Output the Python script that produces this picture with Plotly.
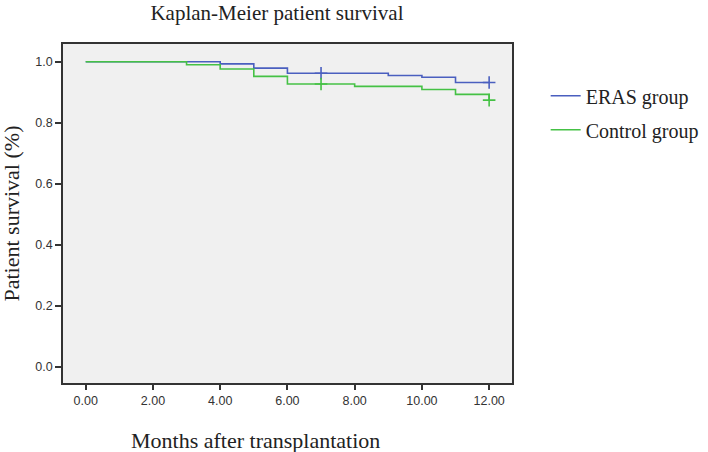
import plotly.graph_objects as go

# Data
eras_months = [0, 4, 5, 6, 9, 10, 11, 12]
eras_surv = [1.0, 0.993, 0.979, 0.962, 0.955, 0.949, 0.932, 0.932]
eras_cens_months = [7, 12]
eras_cens_surv = [0.962, 0.932]

ctrl_months = [0, 3, 4, 5, 6, 8, 10, 11, 12]
ctrl_surv = [1.0, 0.990, 0.976, 0.952, 0.927, 0.919, 0.909, 0.893, 0.874]
ctrl_cens_months = [7, 12]
ctrl_cens_surv = [0.927, 0.874]

x_ticks = [0, 2, 4, 6, 8, 10, 12]
y_ticks = [0.0, 0.2, 0.4, 0.6, 0.8, 1.0]

BLUE = "#4a5fbf"
GREEN = "#45c145"
SERIF = "Liberation Serif, Times New Roman, serif"
SANS = "Liberation Sans, Arial, sans-serif"

fig = go.Figure()
fig.add_trace(go.Scatter(x=eras_months, y=eras_surv, mode="lines", line_shape="hv",
                         line=dict(color=BLUE, width=1.6), name="ERAS group",
                         legendgroup="a"))
fig.add_trace(go.Scatter(x=eras_cens_months, y=eras_cens_surv, mode="markers",
                         marker=dict(symbol="cross-thin", size=9,
                                     line=dict(color=BLUE, width=1.6)),
                         showlegend=False, legendgroup="a"))
fig.add_trace(go.Scatter(x=ctrl_months, y=ctrl_surv, mode="lines", line_shape="hv",
                         line=dict(color=GREEN, width=1.6), name="Control group",
                         legendgroup="b"))
fig.add_trace(go.Scatter(x=ctrl_cens_months, y=ctrl_cens_surv, mode="markers",
                         marker=dict(symbol="cross-thin", size=9,
                                     line=dict(color=GREEN, width=1.6)),
                         showlegend=False, legendgroup="b"))

fig.update_layout(
    width=708, height=452,
    margin=dict(l=63, r=196, t=44, b=69, autoexpand=False),
    paper_bgcolor="white",
    plot_bgcolor="#f0f0f0",
    title=dict(text="Kaplan-Meier patient survival", x=0.4766, xref="paper",
               y=1 - 13 / 452, yref="container", yanchor="middle", xanchor="center",
               font=dict(family=SERIF, size=21, color="#222")),
    showlegend=True,
    legend=dict(x=1.075, xanchor="left", y=0.905, yanchor="top",
                font=dict(family=SERIF, size=20, color="#222"),
                bgcolor="rgba(0,0,0,0)", itemwidth=30,
                traceorder="grouped", tracegroupgap=5),
    xaxis=dict(range=[-0.675, 12.68], tickvals=x_ticks,
               ticktext=[f"{v:.2f}" for v in x_ticks], automargin=False,
               showgrid=False, zeroline=False, showline=True, mirror=True,
               linecolor="#333", linewidth=1.5, ticks="outside", ticklen=5,
               tickcolor="#333", tickwidth=1.5,
               tickfont=dict(family=SANS, size=12.5, color="#333")),
    yaxis=dict(range=[-0.053, 1.058], tickvals=y_ticks,
               ticktext=[f"{v:.1f}" for v in y_ticks], automargin=False,
               showgrid=False, zeroline=False, showline=True, mirror=True,
               linecolor="#333", linewidth=1.5, ticks="outside", ticklen=6,
               tickcolor="#333", tickwidth=1.5,
               tickfont=dict(family=SANS, size=12.5, color="#333")),
    annotations=[
        dict(text="Months after transplantation", xref="paper", yref="paper",
             x=0.428, y=-0.171, xanchor="center", yanchor="middle", showarrow=False,
             font=dict(family=SERIF, size=22, color="#222")),
        dict(text="Patient survival (%)", xref="paper", yref="paper",
             x=-0.1136, y=0.5, xanchor="center", yanchor="middle", showarrow=False,
             textangle=-90, font=dict(family=SERIF, size=22, color="#222")),
    ],
)

fig.write_html("out.html", config={"displayModeBar": False},
               post_script="document.body.style.margin='0';document.body.style.overflow='hidden';")
